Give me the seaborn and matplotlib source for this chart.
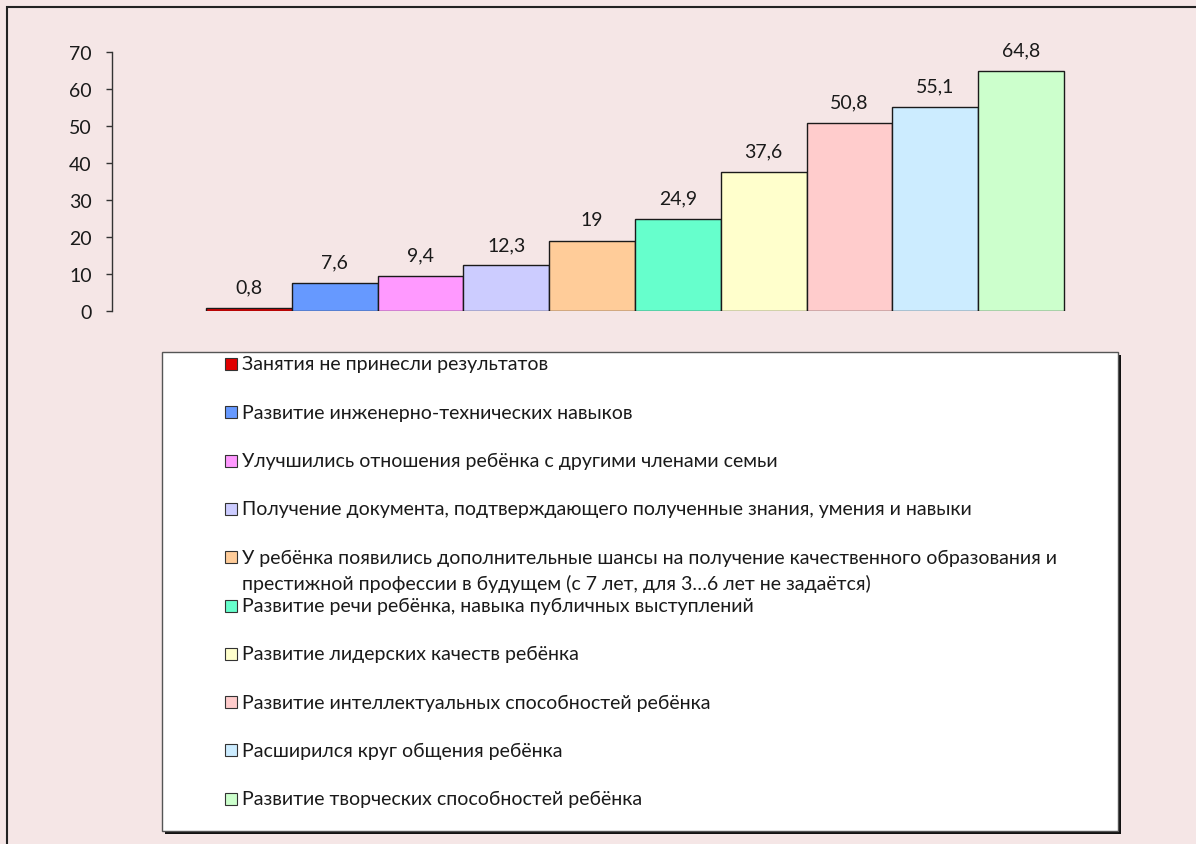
import matplotlib
matplotlib.use("Agg")
import matplotlib.pyplot as plt
from matplotlib.patches import Rectangle
import seaborn as sns

categories = [
    "Занятия не принесли результатов",
    "Развитие инженерно-технических навыков",
    "Улучшились отношения ребёнка с другими членами семьи",
    "Получение документа, подтверждающего полученные знания, умения и навыки",
    "У ребёнка появились дополнительные шансы на получение качественного образования и\nпрестижной профессии в будущем (с 7 лет, для 3…6 лет не задаётся)",
    "Развитие речи ребёнка, навыка публичных выступлений",
    "Развитие лидерских качеств ребёнка",
    "Развитие интеллектуальных способностей ребёнка",
    "Расширился круг общения ребёнка",
    "Развитие творческих способностей ребёнка",
]
values = [0.8, 7.6, 9.4, 12.3, 19, 24.9, 37.6, 50.8, 55.1, 64.8]
colors = ["#E00000", "#6699FF", "#FF99FF", "#CCCCFF", "#FFCC99",
          "#66FFCC", "#FFFFCC", "#FFCCCC", "#CCECFF", "#CCFFCC"]
yticks = [0, 10, 20, 30, 40, 50, 60, 70]

sns.set_theme(style="white")
plt.rcParams['font.family'] = ['Lato', 'DejaVu Sans']

W, H = 1196, 845
BG = "#F5E6E6"
FS = 14
fig = plt.figure(figsize=(W / 100, H / 100), dpi=100, facecolor=BG)

def fx(px):
    return px / W

def fy(py):
    return 1 - py / H

# outer frame (left and top edges visible)
fig.patches.append(Rectangle((fx(7), fy(1000)), fx(1400), fy(8) - fy(1000),
                             transform=fig.transFigure, fill=False, edgecolor="#222222",
                             linewidth=1.5, zorder=0))

ax_left, ax_right, ax_top, ax_bottom = 112, 1076, 53, 312
ax = fig.add_axes([fx(ax_left), fy(ax_bottom), fx(ax_right - ax_left), fy(ax_top) - fy(ax_bottom)])
ax.set_facecolor(BG)

sns.barplot(x=list(range(len(values))), y=values, hue=list(range(len(values))),
            palette=colors, width=1.0, edgecolor="#1a1a1a", linewidth=1.0,
            legend=False, ax=ax, saturation=1)

ax.set_ylim(0, 70)
bar_px = (1064 - 206) / 10
ax.set_xlim(-0.5 - (206 - ax_left) / bar_px, 9.5 + (ax_right - 1064) / bar_px)
ax.set_yticks(yticks)
ax.set_yticklabels([str(t) for t in yticks], fontsize=FS, color="#1a1a1a")
ax.set_xticks([])
ax.set_xlabel("")
ax.set_ylabel("")
for s in ["top", "right", "bottom"]:
    ax.spines[s].set_visible(False)
ax.spines["left"].set_color("#333333")
ax.spines["left"].set_linewidth(1.0)
ax.tick_params(axis="y", direction="out", length=4.5, width=1.0, color="#333333", pad=10, left=True)

for cont, v in zip(ax.containers, values):
    ax.bar_label(cont, labels=[f"{v:g}".replace(".", ",")], padding=9,
                 fontsize=FS, color="#1a1a1a")

# legend box with shadow
lx0, ly0, lx1, ly1 = 162, 353, 1118, 832
fig.patches.append(Rectangle((fx(lx0 + 3), fy(ly1 + 3)), fx(lx1 - lx0), fy(ly0) - fy(ly1),
                             transform=fig.transFigure, facecolor="#111111", edgecolor="none", zorder=1))
fig.patches.append(Rectangle((fx(lx0), fy(ly1)), fx(lx1 - lx0), fy(ly0) - fy(ly1),
                             transform=fig.transFigure, facecolor="white", edgecolor="#555555",
                             linewidth=1.0, zorder=2))

row0, step = 365, 48.3
for i, (lab, c) in enumerate(zip(categories, colors)):
    yc = row0 + step * i
    fig.patches.append(Rectangle((fx(225), fy(yc + 6)), fx(12), fy(yc - 6) - fy(yc + 6),
                                 transform=fig.transFigure, facecolor=c, edgecolor="#333333",
                                 linewidth=0.8, zorder=3))
    for j, line in enumerate(lab.split("\n")):
        fig.text(fx(242), fy(yc + 26 * j), line, fontsize=FS, color="#1a1a1a",
                 va="center", ha="left", zorder=4)

fig.savefig("out.png", dpi=100, facecolor=BG)
